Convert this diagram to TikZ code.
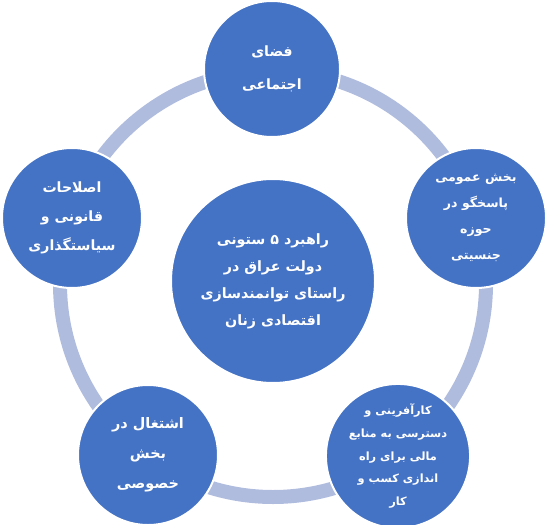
\documentclass[tikz,border=0pt]{standalone}
\usepackage{fontspec}
\TeXXeTstate=1
\newfontfamily\arabicfont[Script=Arabic]{DejaVu Sans}
\definecolor{discblue}{HTML}{4472C4}
\definecolor{ringblue}{HTML}{B0BCDE}
\tikzset{
  disc/.style={circle, fill=discblue, draw=white, line width=2bp, text=white,
    align=center, inner sep=0pt},
  ringline/.style={draw=ringblue, line width=14bp}
}
\begin{document}
\begin{tikzpicture}[x=1bp,y=-1bp]
\useasboundingbox (0,0) rectangle (546,525);
\coordinate (rc) at (273,284);
\draw[ringline] (rc) circle[radius=213bp];
\node[disc, minimum size=136bp, font=\arabicfont\bfseries\fontsize{14.2}{33}\selectfont] (top) at (272,69)
  {\beginR فضای\endR\\\beginR اجتماعی\endR};
\node[disc, minimum size=140bp, font=\arabicfont\bfseries\fontsize{12.6}{26}\selectfont] (right) at (476,218)
  {\beginR بخش عمومی\endR\\\beginR پاسخگو در\endR\\\beginR حوزه\endR\\\beginR جنسیتی\endR};
\node[disc, minimum size=144bp, font=\arabicfont\bfseries\fontsize{11.4}{23}\selectfont] (bright) at (398,456)
  {\beginR کارآفرینی و\endR\\\beginR دسترسی به منابع\endR\\\beginR مالی برای راه\endR\\\beginR اندازی کسب و\endR\\\beginR کار\endR};
\node[disc, minimum size=140bp, font=\arabicfont\bfseries\fontsize{14.5}{30}\selectfont] (bleft) at (148,455)
  {\beginR اشتغال در\endR\\\beginR بخش\endR\\\beginR خصوصی\endR};
\node[disc, minimum size=140bp, font=\arabicfont\bfseries\fontsize{14.2}{29}\selectfont] (left) at (72,218)
  {\beginR اصلاحات\endR\\\beginR قانونی و\endR\\\beginR سیاستگذاری\endR};
\node[disc, minimum size=204bp, font=\arabicfont\bfseries\fontsize{14.3}{27}\selectfont] (center) at (273,281)
  {\beginR راهبرد ۵ ستونی\endR\\\beginR دولت عراق در\endR\\\beginR راستای توانمندسازی\endR\\\beginR اقتصادی زنان\endR};
\end{tikzpicture}
\end{document}
